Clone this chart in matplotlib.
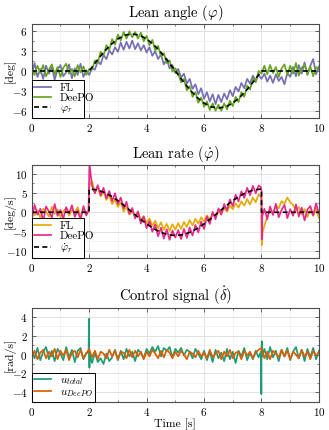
import numpy as np
import matplotlib
matplotlib.use("Agg")
import matplotlib.pyplot as plt
from matplotlib.ticker import MultipleLocator

plt.rcParams['font.family'] = 'serif'
plt.rcParams['font.serif'] = ['cmr10', 'DejaVu Serif']
plt.rcParams['mathtext.fontset'] = 'cm'
plt.rcParams['axes.formatter.use_mathtext'] = True
plt.rcParams['axes.unicode_minus'] = True

# sample times of the measured signals (0.1 s)
t = np.round(np.arange(0, 10.01, 0.1), 2)

# ---- lean angle [deg] ----
ang_ref_t = [0, 2, 2.25, 2.5, 2.75, 3, 3.25, 3.5, 3.75, 4, 4.25, 4.5, 4.75, 5,
             5.25, 5.5, 5.75, 6, 6.25, 6.5, 6.75, 7, 7.25, 7.5, 7.75, 8, 10]
ang_ref = [0, 0, 1.45, 2.8, 3.96, 4.85, 5.41, 5.6, 5.41, 4.85, 3.96, 2.8, 1.45, 0,
           -1.45, -2.8, -3.96, -4.85, -5.41, -5.6, -5.41, -4.85, -3.96, -2.8, -1.45, 0, 0]
ang_fl = [-0.5, 1.2, -0.9, 0.3, -1.2, 0.8, -0.4, 0.6, -1.3, 0.2, 0.9, -0.8, -0.2, 1.0, -1.1, 0.4, -0.6, 1.1, -0.9, 0.1,
          -0.6, 0.4, 0.2, 1.5, 1.0, 2.4, 1.8, 3.1, 2.5, 3.6, 2.9, 4.3, 3.2, 4.4, 3.4, 4.6,
          3.3, 4.2, 3.1, 3.9, 2.8, 3.6, 2.3, 3.0, 1.8, 2.5, 1.0, 1.8, 0.4, 0.9, -0.3,
          0.3, -1.0, -0.4, -1.9, -1.2, -2.7, -2.0, -3.5, -2.6, -4.2, -3.2, -4.6, -3.5, -5.0, -3.6,
          -4.7, -3.4, -4.3, -2.9, -3.8, -2.4, -3.1, -1.8, -2.6, -1.2, -1.9, -0.7, -1.4, -0.6, -1.2,
          -0.4, -1.6, -0.7, -1.8, -0.5, -1.5, -0.9, -2.0, -0.3, -0.9, 0.6, -0.8, 0.9, -0.4, 1.3, -0.6, 0.8, 1.8, -0.5, 0.7]
ang_deepo = [0.4, -0.6, 0.8, -0.3, 0.9, -0.8, 0.2, 1.0, -0.5, 0.6, -0.9, 0.5, 1.1, -0.4, 0.3, -0.8, 0.9, -0.2, 0.7, -0.6,
             0.3, 0.2, 1.6, 1.2, 2.9, 2.3, 3.9, 3.2, 4.8, 4.0, 5.5, 4.6, 5.9, 4.9, 6.0, 5.1,
             5.9, 4.9, 5.8, 4.5, 5.3, 3.9, 4.7, 3.1, 3.8, 2.2, 2.7, 1.2, 1.6, -0.1, 0.4,
             -0.3, -1.7, -1.2, -2.9, -2.3, -3.9, -3.2, -4.8, -4.0, -5.4, -4.6, -5.9, -4.9, -6.0, -5.1,
             -6.0, -4.9, -5.8, -4.5, -5.3, -3.9, -4.7, -3.2, -3.9, -2.2, -2.8, -1.1, -1.7, 0.0, -0.4,
             0.8, -0.5, 0.9, -0.3, 0.6, -0.9, 0.4, 1.0, -0.6, 0.8, -0.4, 1.2, -0.7, 0.5, 0.9, -0.5, 0.7, -0.8, 0.6, 0.2]

# ---- lean rate [deg/s] ----
rate_ref_t = [0, 2, 2, 2.25, 2.5, 2.75, 3, 3.25, 3.5, 3.75, 4, 4.25, 4.5, 4.75, 5,
              5.25, 5.5, 5.75, 6, 6.25, 6.5, 6.75, 7, 7.25, 7.5, 7.75, 8, 8, 10]
rate_ref = [0, 0, 6, 5.8, 5.2, 4.24, 3.0, 1.55, 0, -1.55, -3.0, -4.24, -5.2, -5.8, -6,
            -5.8, -5.2, -4.24, -3.0, -1.55, 0, 1.55, 3.0, 4.24, 5.2, 5.8, 6, 0, 0]
rate_fl = [1.2, -0.8, 0.5, -1.5, 0.9, 0.2, -1.1, 1.4, -0.4, 0.7, -1.3, 0.3, 1.1, -0.9, 0.6, -0.2, 1.3, -1.0, 0.4, -0.6,
           6.0, 8.0, 5.2, 6.5, 4.1, 5.3, 3.2, 4.4, 2.1, 3.3, 1.4, 2.6, 0.2, 1.5, -0.6, 0.3,
           -1.2, 0.1, -2.0, -1.0, -2.8, -1.6, -3.5, -2.2, -4.1, -2.6, -4.5, -3.0, -4.8, -3.1, -4.5,
           -2.8, -4.3, -2.5, -3.8, -2.0, -3.4, -1.7, -2.9, -1.3, -2.4, -0.8, -1.9, -0.3, -1.2, 0.3,
           -0.4, 1.0, 0.2, 1.7, 0.8, 2.3, 1.2, 2.8, 1.7, 3.4, 2.0, 3.8, 2.6, 4.6, 3.0,
           -3.5, -1.2, 0.6, -0.5, 1.8, 1.0, 2.9, 2.2, 3.8, 2.6, 1.9, 0.4, 1.4, -0.6, 0.8, -1.2, 0.5, -0.9, 1.0, -1.5]
rate_fl_jump_t = [1.98, 2.01, 7.98, 8.01, 8.04]
rate_fl_jump = [0.2, 7.0, 4.0, -8.5, -5.0]
rate_deepo = [-1.8, 1.9, -0.6, 0.9, -2.3, 1.5, 0.2, -1.4, 2.1, -0.9, 0.6, -1.7, 1.3, -0.3, 1.8, -1.2, 0.5, -2.0, 1.6, -0.8,
              9.0, 6.8, 4.9, 7.0, 4.4, 6.3, 3.6, 5.5, 2.9, 4.9, 2.1, 3.8, 1.0, 2.7, -0.4, 1.1,
              -1.6, 0.2, -2.9, -1.1, -4.1, -2.3, -5.0, -3.2, -6.2, -4.0, -6.8, -4.4, -7.1, -4.7, -6.5,
              -4.6, -6.9, -4.3, -6.6, -3.9, -6.0, -3.3, -5.2, -2.4, -4.3, -1.1, -3.0, 0.1, -1.8, 1.0,
              -0.6, 2.1, 0.5, 3.3, 1.6, 4.5, 2.8, 5.4, 3.7, 6.3, 4.4, 6.8, 4.9, 6.9, 5.5,
              0.9, -1.8, 1.5, -0.7, 2.2, -1.3, 0.6, 1.9, -1.5, 0.8, -0.9, 2.0, -1.1, 1.2, -2.1, 0.7, 1.6, -0.8, 2.3, -0.4]
rate_deepo_jump_t = [1.98, 2.01, 7.98, 8.01, 8.03]
rate_deepo_jump = [0.5, 12.5, 6.5, -7.0, -1.0]

# ---- control signal [rad/s] ----
u_total = [0.5, -0.4, 0.7, -0.6, 0.3, 0.8, -0.5, 0.4, -0.7, 0.6, 0.1, -0.6, 0.8, -0.3, 0.5, -0.8, 0.4, 0.7, -0.5, 0.2,
           -0.3, -0.9, 0.2, -0.8, -0.4, -1.0, 0.1, -0.7, -0.3, 0.5, -0.6, 0.4, -0.5, 0.6, -0.2, 0.3, -0.7, 0.5, 0.2, -0.4,
           0.6, 0.1, 0.8, 0.3, 0.9, -0.2, 0.7, 0.4, 0.8, -0.3, 0.6, 0.2, 0.7, -0.1, 0.5, 0.3, -0.4, 0.6, 0.1, -0.5,
           0.4, -0.6, 0.3, -0.8, 0.5, -0.4, 0.2, -0.7, 0.6, -0.5, 0.3, -0.9, 0.4, -0.2, 0.7, -0.6, 0.2, -0.5, 0.4, -0.3,
           0.2, 0.6, -0.5, 0.8, -0.3, 0.4, -0.7, 0.5, -0.2, 0.7, -0.6, 0.3, 0.8, -0.4, 0.5, -0.7, 0.6, -0.3, 0.7, -0.5, 0.4]
u_total_jump_t = [1.98, 1.995, 2.01, 2.02, 7.98, 7.995, 8.01, 8.02]
u_total_jump = [0.2, 3.8, -1.4, 0.1, 0.3, -4.2, 1.4, -0.2]
u_deepo = [-0.3, 0.4, -0.5, 0.2, 0.5, -0.4, 0.3, -0.2, 0.6, -0.5, 0.4, -0.1, 0.5, -0.6, 0.2, 0.4, -0.3, 0.5, -0.4, 0.1,
           0.6, -0.3, 0.4, -0.5, 0.3, 0.1, -0.4, 0.5, -0.2, 0.4, -0.5, 0.3, 0.2, -0.4, 0.5, -0.3, 0.4, -0.2, 0.3, -0.5,
           0.3, -0.2, 0.5, 0.1, -0.4, 0.4, -0.3, 0.5, 0.2, -0.4, 0.3, -0.2, 0.4, 0.0, -0.5, 0.3, 0.1, -0.3, 0.4, -0.2,
           0.2, -0.4, 0.5, -0.3, 0.1, 0.4, -0.5, 0.3, -0.2, 0.5, -0.4, 0.2, 0.3, -0.5, 0.4, -0.1, 0.3, -0.4, 0.2, 0.5,
           0.7, -0.4, 0.3, -0.5, 0.4, 0.1, -0.3, 0.5, -0.2, 0.4, -0.5, 0.3, 0.0, -0.4, 0.5, -0.2, 0.3, -0.5, 0.4, -0.1, 0.2]


def merge(ts, vs, jt, jv):
    # add the few extra samples around the steps at 2 s and 8 s
    tt = np.concatenate([ts, jt])
    vv = np.concatenate([vs, jv])
    idx = np.argsort(tt, kind='stable')
    return tt[idx], vv[idx]


def style(ax, ylim, ymaj, ylabel):
    ax.set_xlim(0, 10)
    ax.set_ylim(*ylim)
    ax.xaxis.set_major_locator(MultipleLocator(2))
    ax.xaxis.set_minor_locator(MultipleLocator(1))
    ax.yaxis.set_major_locator(MultipleLocator(ymaj))
    ax.yaxis.set_minor_locator(MultipleLocator(ymaj / 2))
    ax.grid(True, which='major', color='#dcdcdc', lw=0.6)
    ax.grid(True, which='minor', color='#efefef', lw=0.5)
    ax.set_axisbelow(True)
    ax.tick_params(which='both', direction='in', top=True, right=True,
                   labelsize=8, colors='0.3', labelcolor='black', pad=3)
    ax.tick_params(which='major', length=3, width=0.6)
    ax.tick_params(which='minor', length=1.6, width=0.5)
    for s in ax.spines.values():
        s.set_color('0.3')
        s.set_linewidth(0.8)
    ax.set_ylabel(ylabel, fontsize=8.5, labelpad=2)


def legend(ax, w):
    # box is stretched to the width seen in the original figure
    lg = ax.legend(loc='lower left', bbox_to_anchor=(0, 0, w, 0.4), mode='expand',
                   fontsize=8, frameon=True, fancybox=False,
                   borderaxespad=0, handlelength=1.5, handletextpad=0.8,
                   borderpad=0.25, labelspacing=0.04)
    lg.get_frame().set_edgecolor('black')
    lg.get_frame().set_linewidth(0.7)
    lg.get_frame().set_alpha(1)


fig = plt.figure(figsize=(3.29, 4.30), dpi=100)
left, width = 0.0964, 0.873
ax1 = fig.add_axes([left, 0.7256, width, 0.2186])
ax2 = fig.add_axes([left, 0.400, width, 0.2163])
ax3 = fig.add_axes([left, 0.0651, width, 0.2186])

lw = 1.25
ax1.plot(t, ang_fl, color='#7570b3', lw=lw, label='FL')
ax1.plot(t, ang_deepo, color='#66a61e', lw=lw, label='DeePO')
ax1.plot(ang_ref_t, ang_ref, color='black', lw=1.2, ls=(0, (3, 2)), label=r'$\varphi_r$')
style(ax1, (-7.1, 7.1), 3, '[deg]')
ax1.set_title(r'Lean angle ($\varphi$)', fontsize=10.5, pad=5)
legend(ax1, 0.182)

tf, vf = merge(t, rate_fl, rate_fl_jump_t, rate_fl_jump)
td, vd = merge(t, rate_deepo, rate_deepo_jump_t, rate_deepo_jump)
ax2.plot(tf, vf, color='#e6ab02', lw=lw, label='FL')
ax2.plot(td, vd, color='#e7298a', lw=lw, label='DeePO')
ax2.plot(rate_ref_t, rate_ref, color='black', lw=1.2, ls=(0, (3, 2)), label=r'$\dot{\varphi}_r$')
style(ax2, (-11.8, 12.2), 5, '[deg/s]')
ax2.set_title(r'Lean rate ($\dot{\varphi}$)', fontsize=10.5, pad=5)
legend(ax2, 0.182)

tu, vu = merge(t, u_total, u_total_jump_t, u_total_jump)
ax3.plot(tu, vu, color='#1b9e77', lw=lw, label=r'$u_{total}$')
ax3.plot(t, u_deepo, color='#d95f02', lw=lw, label=r'$u_{DeePO}$')
style(ax3, (-5.05, 4.95), 2, '[rad/s]')
ax3.set_title(r'Control signal ($\dot{\delta}$)', fontsize=10.5, pad=5)
ax3.set_xlabel('Time [s]', fontsize=8.5, labelpad=0)
legend(ax3, 0.22)

for ax in (ax1, ax2, ax3):
    ax.yaxis.set_label_coords(-0.056, 0.5)

fig.savefig('out.png', dpi=100)
